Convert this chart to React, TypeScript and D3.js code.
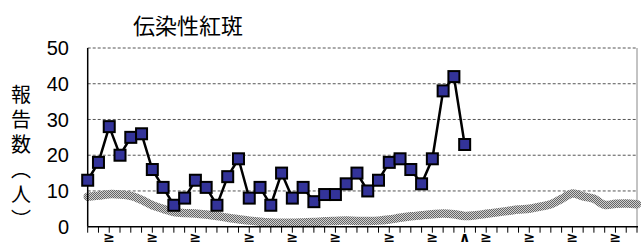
import React from 'react';
import * as d3 from 'd3';

// weekly reports (current year), weeks 1..36
const reports = [
  13, 18, 28, 20, 25, 26, 16, 11, 6, 8, 13, 11, 6, 14, 19, 8, 11, 6,
  15, 8, 11, 7, 9, 9, 12, 15, 10, 13, 18, 19, 16, 12, 19, 38, 42, 23,
];

// past years average, weeks 1..52
const baseline = [
  8.4, 8.7, 9.1, 9.0, 8.6, 7.5, 6.0, 5.0, 4.1, 3.8, 3.7, 3.4, 3.0, 2.5,
  2.1, 1.7, 1.4, 1.2, 1.1, 1.1, 1.2, 1.3, 1.5, 1.6, 1.7, 1.6, 1.6, 1.7,
  2.0, 2.5, 2.9, 3.2, 3.5, 3.7, 3.5, 3.0, 3.2, 3.6, 4.0, 4.4, 4.8, 5.0,
  5.6, 6.3, 7.8, 9.3, 8.5, 7.8, 6.1, 6.4, 6.5, 6.3,
];

const yTicks = [0, 10, 20, 30, 40, 50];
const monthWeeks = [2, 6, 10, 15, 19, 23, 28, 32, 37, 41, 45, 49];
const currentWeek = 35;

const W = 641;
const H = 246;
const left = 87.7;
const right = 637;
const top = 48;
const bottom = 226.7;

const App = () => {
  const x = d3.scaleLinear().domain([0, 51]).range([left, right]);
  const y = d3.scaleLinear().domain([0, 50]).range([bottom, top]);

  const baseLine = d3.line<number>()
    .x((_, i) => x(i))
    .y(d => y(d))
    .curve(d3.curveCatmullRom.alpha(0.5));

  const reportLine = d3.line<number>()
    .x((_, i) => x(i))
    .y(d => y(d));

  const numFont = '"Liberation Sans", Arial, sans-serif';
  const jpFont = '"Noto Sans CJK JP", sans-serif';
  const sq = 11;

  return (
    <svg width={W} height={H} style={{ position: 'absolute', left: 0, top: 0 }}>
      <defs>
        <pattern id="checker" width="2" height="2" patternUnits="userSpaceOnUse">
          <rect width="2" height="2" fill="#d0d0d0" />
          <rect width="1" height="1" fill="#666" />
          <rect x="1" y="1" width="1" height="1" fill="#666" />
        </pattern>
      </defs>
      <rect width={W} height={H} fill="#fff" />

      <text x={188} y={34} textAnchor="middle" fontFamily={jpFont} fontSize={22} fill="#000">
        伝染性紅斑
      </text>

      {/* gridlines */}
      {yTicks.filter(t => t > 0).map(t => (
        <line key={t} x1={left} x2={right} y1={y(t)} y2={y(t)}
          stroke="#555" strokeWidth={1} strokeDasharray="3,2" />
      ))}
      <line x1={right} x2={right} y1={top} y2={bottom} stroke="#888" strokeWidth={1} />

      {/* y labels */}
      {yTicks.map(t => (
        <text key={t} x={69} y={y(t)} dy="0.36em" textAnchor="end"
          fontFamily={numFont} fontSize={20} fill="#000">{t}</text>
      ))}
      <text x={21} y={84} fontFamily={jpFont} fontSize={20} fill="#000"
        style={{ writingMode: 'vertical-rl' }} letterSpacing={5}>報告数（人）</text>

      {/* baseline band */}
      <path d={baseLine(baseline) || ''} fill="none" stroke="url(#checker)"
        strokeWidth={8.5} strokeLinecap="round" strokeLinejoin="round" />

      {/* axes */}
      <line x1={left} x2={left} y1={top} y2={bottom} stroke="#000" strokeWidth={1.5} />
      <line x1={left} x2={right + 1} y1={bottom} y2={bottom} stroke="#000" strokeWidth={1.5} />
      {d3.range(52).map(i => (
        <line key={i} x1={x(i)} x2={x(i)} y1={bottom} y2={bottom + 6} stroke="#000" strokeWidth={1} />
      ))}
      {monthWeeks.map(w => (
        <text key={w} x={x(w)} y={242} textAnchor="middle"
          fontFamily='"DejaVu Sans", sans-serif' fontSize={14} fontWeight="bold" fill="#000">≥</text>
      ))}
      <text x={x(currentWeek)} y={242} textAnchor="middle"
        fontFamily='"DejaVu Sans", sans-serif' fontSize={14} fontWeight="bold" fill="#000">∧</text>

      {/* reports */}
      <path d={reportLine(reports) || ''} fill="none" stroke="#000" strokeWidth={2.5} />
      {reports.map((d, i) => (
        <rect key={i} x={x(i) - sq / 2} y={y(d) - sq / 2} width={sq} height={sq}
          fill="#333399" stroke="#000" strokeWidth={2} />
      ))}
    </svg>
  );
};

export default App;
